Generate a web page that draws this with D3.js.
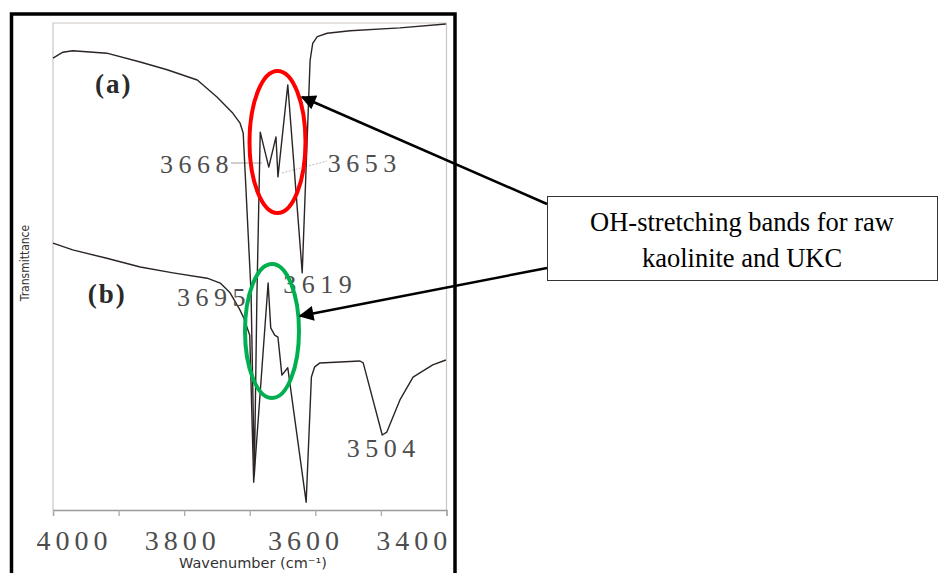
<!DOCTYPE html>
<html>
<head>
<meta charset="utf-8">
<script src="https://cdn.jsdelivr.net/npm/d3@7"></script>
<style>
  html, body { margin: 0; padding: 0; background: #fff; }
  svg { display: block; }
</style>
</head>
<body>
<div id="chart"></div>
<script>
// FTIR spectra, OH-stretching region. values: [wavenumber, transmittance (a.u.)]
const spectrumA = [
  [4000, 92.8], [3985, 94.0], [3970, 94.3], [3918, 93.8], [3867, 92.0],
  [3826, 90.4], [3780, 88.3], [3750, 84.8], [3726, 81.5], [3715, 79.5],
  [3710, 77.4], [3698, 44.6], [3693, 7.2], [3689, 44.6], [3684, 77.6],
  [3671, 70.4], [3660, 76.6], [3657, 68.4], [3642, 87.3], [3620, 48.7],
  [3608, 92.3], [3604, 95.8], [3597, 97.2], [3582, 97.9], [3547, 98.4],
  [3471, 99.0], [3401, 99.8]
];
const spectrumB = [
  [4000, 54.8], [3970, 53.4], [3918, 51.7], [3867, 49.9], [3817, 48.7],
  [3765, 47.6], [3745, 46.6], [3730, 44.6], [3715, 41.1], [3709, 39.4],
  [3700, 35.9], [3694, 5.7], [3672, 46.6], [3668, 37.4], [3662, 35.9],
  [3657, 35.5], [3651, 27.7], [3642, 29.2], [3614, 1.6], [3606, 27.3],
  [3601, 29.4], [3593, 30.2], [3532, 30.6], [3527, 30.2], [3498, 15.4],
  [3491, 16.0], [3471, 22.6], [3451, 27.3], [3421, 29.8], [3401, 30.8]
];
const tickValues = [4000, 3900, 3800, 3700, 3600, 3500, 3400];
// printed tick labels and where they start (in wavenumber units)
const tickLabels = ["4000", "3800", "3600", "3400"];
const tickLabelStart = [4025, 3860, 3672, 3507];
const curveLabels = [["(a)", 3936, 85.6], ["(b)", 3947, 42.5]];
// band labels: text, wavenumber where text starts, baseline
const bandLabels = [
  ["3668", 3837, 69.3], ["3653", 3581, 69.5], ["3695", 3811, 41.8],
  ["3619", 3649, 44.5], ["3504", 3552, 10.8]
];
const noteLines = ["OH-stretching bands for raw", "kaolinite and UKC"];

const W = 951, H = 573;
const margin = { left: 53, right: 505, top: 23, bottom: 63 };

const svg = d3.select("#chart").append("svg")
  .attr("width", W).attr("height", H);

const x = d3.scaleLinear().domain([4000, 3400])
  .range([margin.left, W - margin.right + 0.5]);
const y = d3.scaleLinear().domain([0, 100])
  .range([H - margin.bottom, margin.top]);

const numFont = "'Liberation Serif', 'Times New Roman', serif";

// outer black frame (bottom edge is cut off by the picture)
svg.append("rect")
  .attr("x", 11.5).attr("y", 14)
  .attr("width", 443.5).attr("height", 580)
  .attr("fill", "none").attr("stroke", "#000").attr("stroke-width", 3.5);

// plot box
svg.append("path")
  .attr("d", `M${x(4000)},${y(0)}V${y(100)}H${x(3400)}V${y(0)}`)
  .attr("fill", "none").attr("stroke", "#cdc6c2").attr("stroke-width", 1.2);

const xAxis = d3.axisBottom(x)
  .tickValues(tickValues)
  .tickSize(6)
  .tickFormat("");

const gx = svg.append("g")
  .attr("transform", `translate(0,${y(0)})`)
  .call(xAxis);
gx.select(".domain").attr("stroke", "#999").attr("stroke-width", 1.3);
gx.selectAll(".tick line").attr("stroke", "#aaa").attr("stroke-width", 1.3);

svg.selectAll("text.tick-label")
  .data(tickLabels)
  .join("text")
  .attr("class", "tick-label")
  .attr("x", (d, i) => x(tickLabelStart[i]))
  .attr("y", 550)
  .style("font-family", numFont)
  .style("font-size", "28px")
  .style("letter-spacing", "5px")
  .attr("fill", "#4d4d4d")
  .text(d => d);

svg.append("text")
  .attr("x", 253).attr("y", 568)
  .attr("text-anchor", "middle")
  .style("font-family", "'DejaVu Sans', sans-serif")
  .style("font-size", "14.5px")
  .attr("fill", "#333")
  .text("Wavenumber (cm\u207B\u00B9)");

svg.append("text")
  .attr("transform", "translate(29,263) rotate(-90)")
  .attr("text-anchor", "middle")
  .style("font-family", "'Liberation Sans Narrow', 'DejaVu Sans Condensed', sans-serif")
  .style("font-size", "12px")
  .attr("fill", "#333")
  .text("Transmittance");

// leader lines
svg.append("line")
  .attr("x1", 231).attr("y1", 163).attr("x2", 262).attr("y2", 163)
  .attr("stroke", "#888").attr("stroke-width", 0.8);
svg.append("line")
  .attr("x1", 282).attr("y1", 173).attr("x2", 327).attr("y2", 161)
  .attr("stroke", "#aaa").attr("stroke-width", 0.8)
  .attr("stroke-dasharray", "2,1.5");

const line = d3.line()
  .x(d => x(d[0]))
  .y(d => y(d[1]));

[spectrumA, spectrumB].forEach(s => {
  svg.append("path")
    .datum(s)
    .attr("d", line)
    .attr("fill", "none")
    .attr("stroke", "#2b2523")
    .attr("stroke-width", 1.4)
    .attr("stroke-linejoin", "round");
});

svg.selectAll("text.curve")
  .data(curveLabels)
  .join("text")
  .attr("class", "curve")
  .attr("x", d => x(d[1])).attr("y", d => y(d[2]))
  .style("font-family", numFont)
  .style("font-size", "27px")
  .style("font-weight", "bold")
  .style("letter-spacing", "2px")
  .attr("fill", "#2a2a2a")
  .text(d => d[0]);

svg.selectAll("text.band")
  .data(bandLabels)
  .join("text")
  .attr("class", "band")
  .attr("x", d => x(d[1])).attr("y", d => y(d[2]))
  .style("font-family", numFont)
  .style("font-size", "26px")
  .style("letter-spacing", "5.5px")
  .attr("fill", "#4d4d4d")
  .text(d => d[0]);

// highlight ellipses
svg.append("ellipse")
  .attr("cx", 277.5).attr("cy", 142).attr("rx", 28).attr("ry", 71)
  .attr("fill", "none").attr("stroke", "#ff0000").attr("stroke-width", 4);
svg.append("ellipse")
  .attr("cx", 272).attr("cy", 331).attr("rx", 27).attr("ry", 67)
  .attr("fill", "none").attr("stroke", "#00b050").attr("stroke-width", 4);

// annotation box
svg.append("rect")
  .attr("x", 547.5).attr("y", 196.5).attr("width", 390).attr("height", 84)
  .attr("fill", "#fff").attr("stroke", "#333").attr("stroke-width", 1);
svg.selectAll("text.note")
  .data(noteLines)
  .join("text")
  .attr("class", "note")
  .attr("x", 742).attr("y", (d, i) => 231 + i * 36)
  .attr("text-anchor", "middle")
  .style("font-family", "'Liberation Serif', serif")
  .style("font-size", "26.5px")
  .attr("fill", "#000")
  .text(d => d);

// arrows
svg.append("defs").append("marker")
  .attr("id", "head")
  .attr("viewBox", "0 0 10 10")
  .attr("refX", 9).attr("refY", 5)
  .attr("markerWidth", 8.5).attr("markerHeight", 6)
  .attr("markerUnits", "strokeWidth")
  .attr("orient", "auto")
  .append("path").attr("d", "M0,0L10,5L0,10Z").attr("fill", "#000");

[[547, 204, 302, 97], [547, 268, 300, 316]].forEach(a => {
  svg.append("line")
    .attr("x1", a[0]).attr("y1", a[1]).attr("x2", a[2]).attr("y2", a[3])
    .attr("stroke", "#000").attr("stroke-width", 2.5)
    .attr("marker-end", "url(#head)");
});
</script>
</body>
</html>
